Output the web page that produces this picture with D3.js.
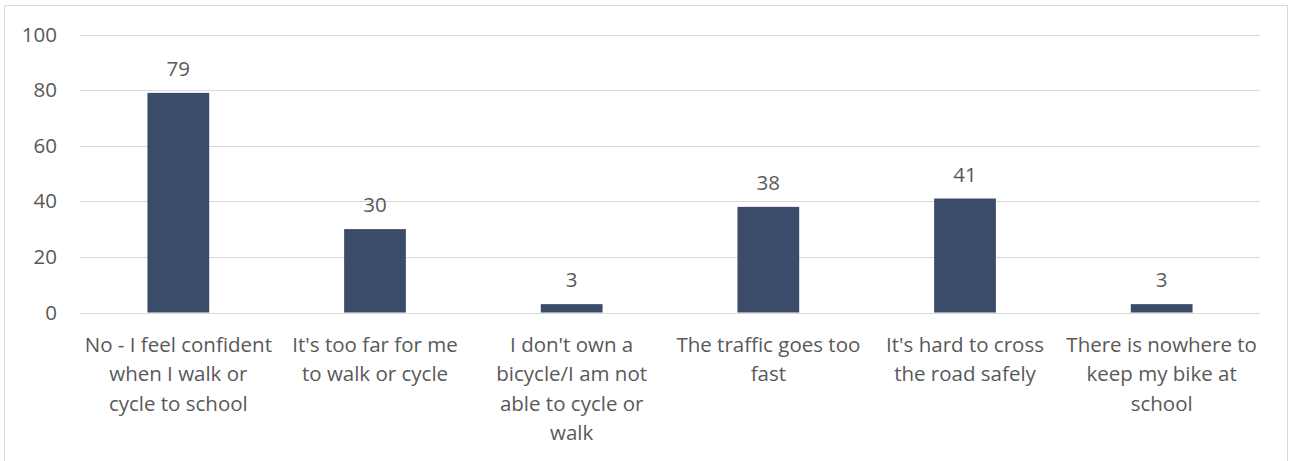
<!DOCTYPE html>
<html><head><meta charset="utf-8">
<script src="https://cdn.jsdelivr.net/npm/d3@7"></script>
<style>
html,body{margin:0;padding:0;background:#fff;}
text{font-family:"Open Sans",sans-serif;fill:#595959;}
</style></head>
<body><svg id="c" width="1290" height="461"></svg>
<script>
const categories = [
  ["No - I feel confident","when I walk or","cycle to school"],
  ["It's too far for me","to walk or cycle"],
  ["I don't own a","bicycle/I am not","able to cycle or","walk"],
  ["The traffic goes too","fast"],
  ["It's hard to cross","the road safely"],
  ["There is nowhere to","keep my bike at","school"]
];
const values = [79, 30, 3, 38, 41, 3];
const yTicks = [0, 20, 40, 60, 80, 100];

const svg = d3.select("#c");
const W = 1290, H = 461;
const m = {left: 80, right: 30, top: 34.5, bottom: 148.5};
const fs = 20.5;

svg.append("rect").attr("x",4.5).attr("y",5.5).attr("width",1283).attr("height",470)
  .attr("fill","#fff").attr("stroke","#d9d9d9").attr("stroke-width",1);

const x = d3.scaleBand().domain(d3.range(categories.length))
  .range([m.left, W - m.right]).paddingInner(0.686).paddingOuter(0.343);
const y = d3.scaleLinear().domain([0, 100]).range([H - m.bottom, m.top]);

svg.append("g").selectAll("line").data(yTicks).join("line")
  .attr("x1", m.left).attr("x2", W - m.right)
  .attr("y1", d => Math.round(y(d)) + 0.5).attr("y2", d => Math.round(y(d)) + 0.5)
  .attr("stroke", "#d9d9d9").attr("stroke-width", 1);

const yAxis = d3.axisLeft(y).tickValues(yTicks).tickSize(0).tickPadding(23);
const ya = svg.append("g").attr("transform", `translate(${m.left},0)`).call(yAxis);
ya.select(".domain").remove();
ya.selectAll("text").style("font-size", fs + "px").attr("fill", "#595959")
  .style("font-family", null);

svg.append("g").selectAll("rect").data(values).join("rect")
  .attr("x", (d,i) => x(i)).attr("width", x.bandwidth())
  .attr("y", d => y(d)).attr("height", d => y(0) - y(d))
  .attr("fill", "#3b4c6b");

svg.append("g").selectAll("text").data(values).join("text")
  .attr("x", (d,i) => x(i) + x.bandwidth()/2).attr("y", d => y(d) - 17)
  .attr("text-anchor", "middle").style("font-size", fs + "px").text(d => d);

const xAxis = d3.axisBottom(x).tickSize(0).tickFormat("");
const xa = svg.append("g").attr("transform", `translate(0,${y(0)})`).call(xAxis);
xa.select(".domain").remove();
xa.selectAll(".tick").each(function(i) {
  const t = d3.select(this).append("text").attr("text-anchor", "middle")
    .style("font-size", fs + "px");
  categories[i].forEach((line, k) => {
    t.append("tspan").attr("x", 0).attr("y", 39.5 + k * 29.3).text(line);
  });
});
</script></body></html>
